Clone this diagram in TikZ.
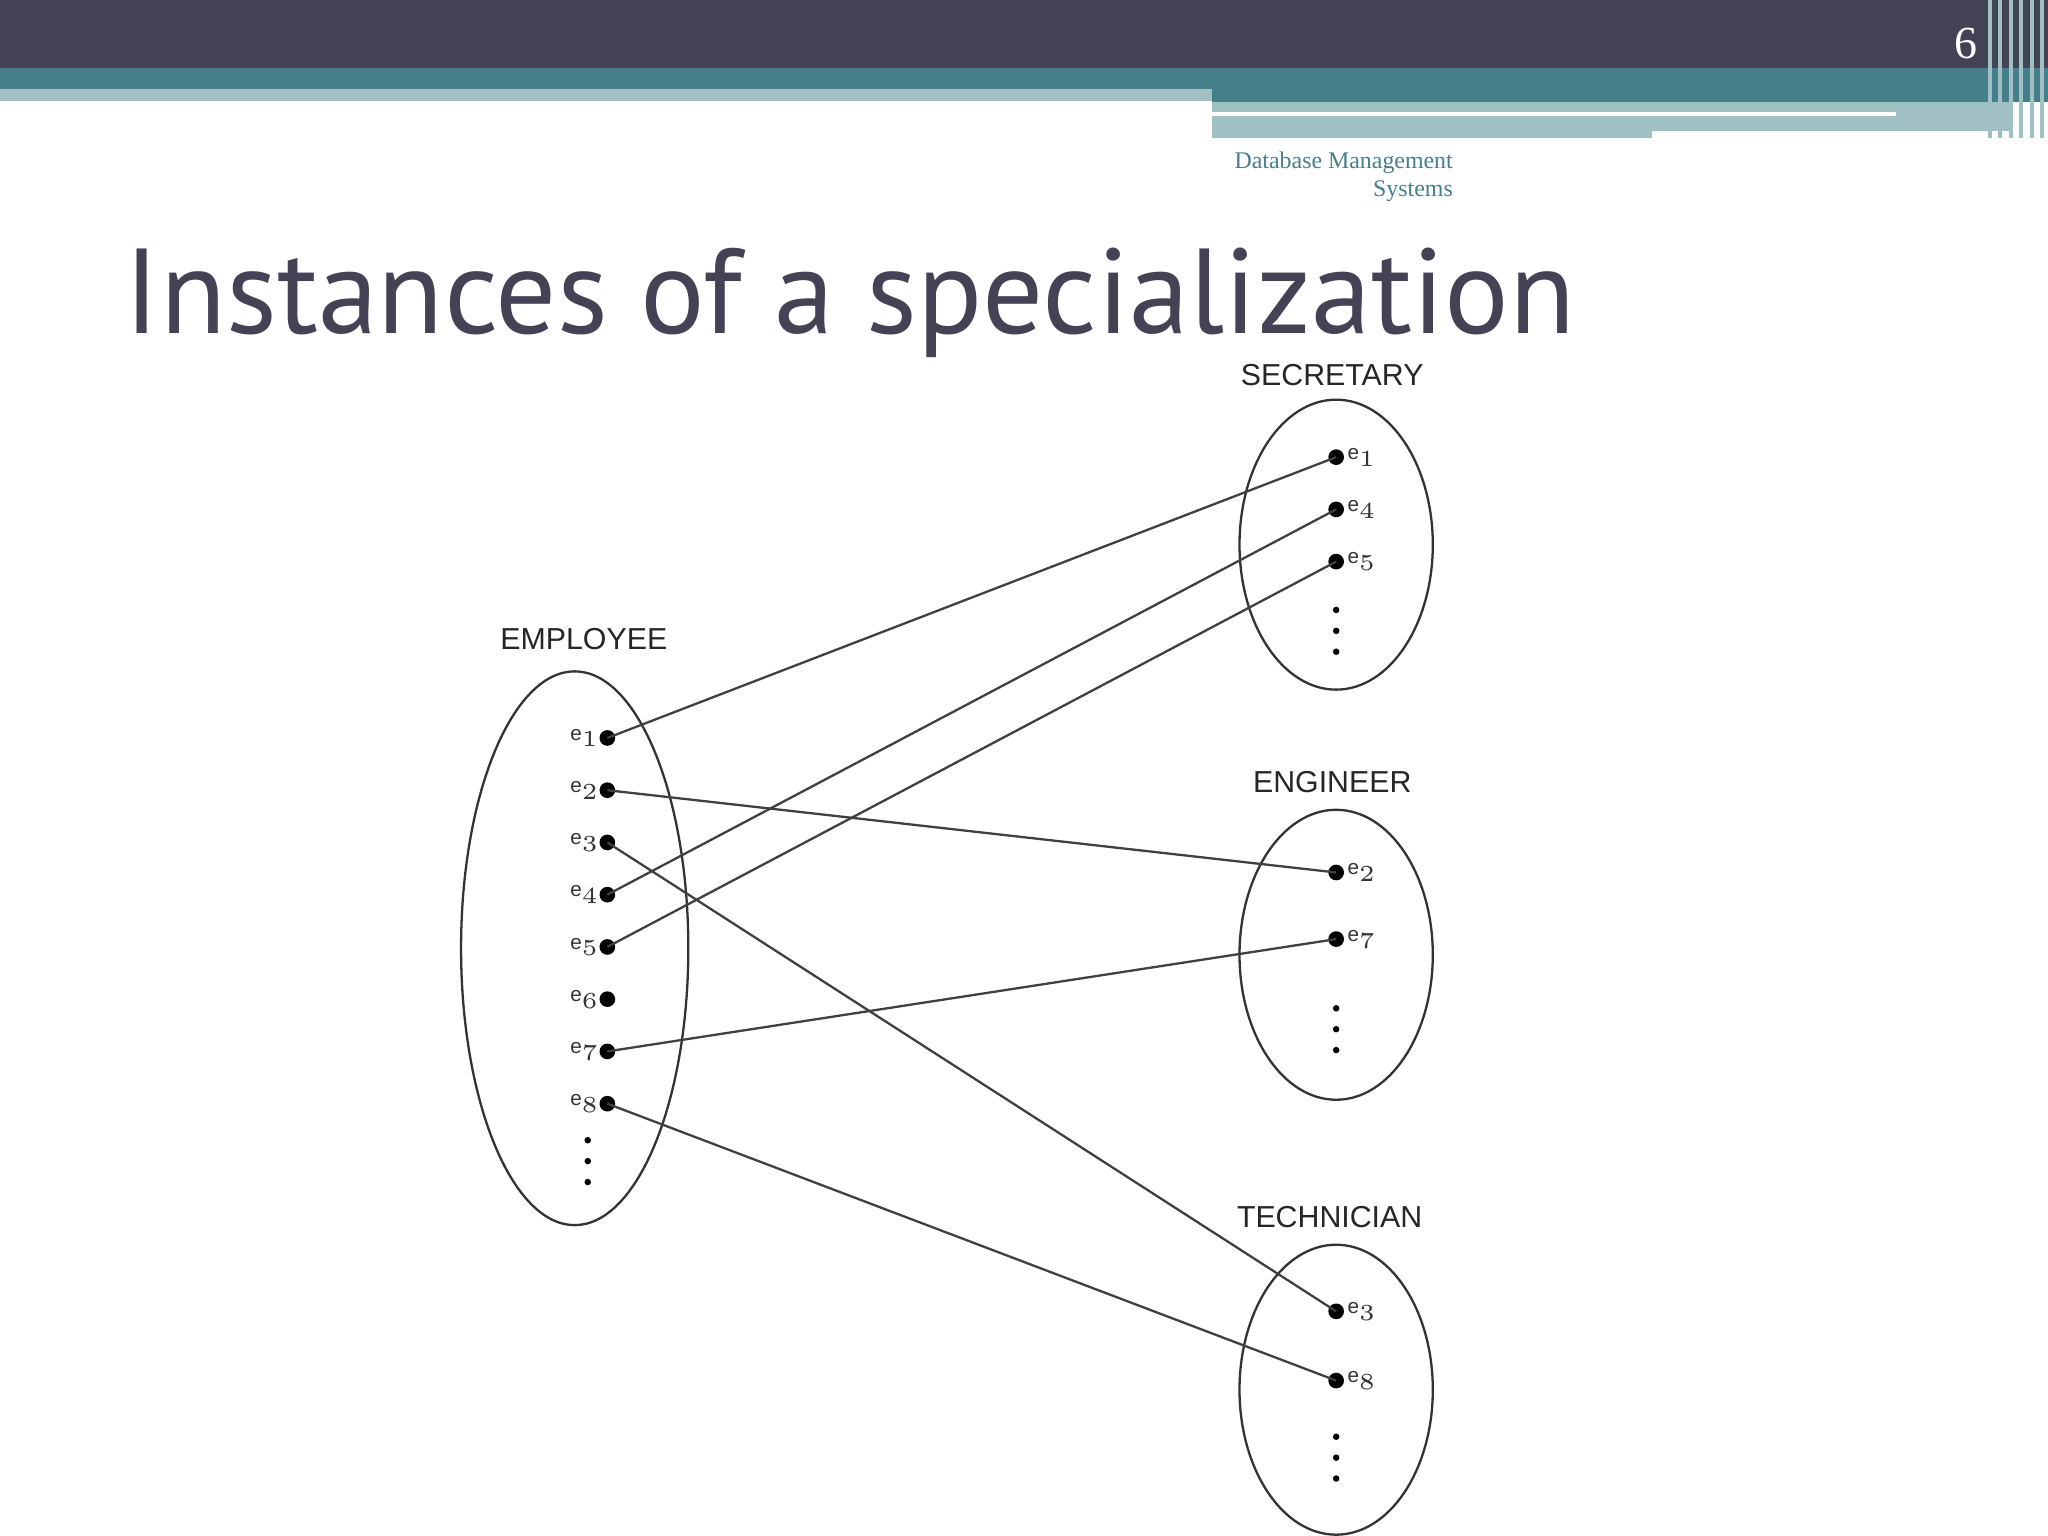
\documentclass[tikz,border=0pt]{standalone}
\usepackage{fontspec}
\setmainfont{Liberation Serif}
\newfontfamily\titlefont{PT Sans}
\newfontfamily\lab{Liberation Sans}
\begin{document}
\begin{tikzpicture}[x=0.01cm,y=-0.01cm,
  dot/.style={circle,fill=black,inner sep=0pt,minimum size=0.12cm},
  small/.style={circle,fill=black,inner sep=0pt,minimum size=0.05cm},
  set/.style={draw=black!80,line width=0.5pt},
  conn/.style={draw=black!75,line width=0.5pt},
  setlab/.style={font=\lab\fontsize{6.6}{8}\selectfont,text=black!85,inner sep=1pt},
  el/.style={font=\lab\fontsize{4.5}{5}\selectfont,text=black!80,inner sep=0pt}]
\definecolor{dark}{HTML}{434355}
\definecolor{teal1}{HTML}{45808A}
\definecolor{teal2}{HTML}{A0C0C4}
\useasboundingbox (0,0) rectangle (1568,1176);
\fill[white] (0,0) rectangle (1568,1176);
% header
\fill[dark] (0,0) rectangle (1568,52);
\fill[teal1] (0,52) rectangle (1568,68);
\fill[teal2] (0,68) rectangle (928,77);
\fill[teal1] (928,68) rectangle (1568,78);
\fill[teal2] (928,78) rectangle (1540,106);
\fill[white] (928,86) rectangle (1452,89);
\fill[white] (1265,100) rectangle (1540,106);
\foreach \x in {1522,1530,1538,1546,1554,1562} \fill[teal2] (\x,0) rectangle (\x+3,106);
\node[text=white,font=\fontsize{10}{12}\selectfont] (num) at (1505,33) {6};
\node[align=right,anchor=north east,text=teal1,font=\fontsize{5.2}{6}\selectfont,inner sep=0pt] (sub) at (1113,116) {Database Management\\Systems};
\node[anchor=base west,text=dark,font=\titlefont\fontsize{26.3}{30}\selectfont,inner sep=0pt] (title) at (95,255) {Instances of a specialization};
% sets
\draw[set] (440,726) ellipse [x radius=87,y radius=212];
\draw[set] (1023,417) ellipse [x radius=74,y radius=111];
\draw[set] (1023,731) ellipse [x radius=74,y radius=111];
\draw[set] (1023,1064) ellipse [x radius=74,y radius=111];
\node[setlab] (lemp) at (447,489) {EMPLOYEE};
\node[setlab] (lsec) at (1020,287) {SECRETARY};
\node[setlab] (leng) at (1020,599) {ENGINEER};
\node[setlab] (ltec) at (1018,932) {TECHNICIAN};
% employee
\foreach \i/\y in {1/565,2/605,3/645,4/685,5/725,6/765,7/805,8/845}{
  \node[dot] (E\i) at (465,\y) {};
  \node[el] (El\i) at (448,\y) {e$_{\scriptscriptstyle\i}$};
}
\foreach \y in {873,889,905} \node[small] at (450,\y) {};
% secretary
\foreach \i/\y in {1/350,4/390,5/430}{
  \node[dot] (S\i) at (1023,\y) {};
  \node[el] (Sl\i) at (1043,\y) {e$_{\scriptscriptstyle\i}$};
}
\foreach \y in {467,483,499} \node[small] at (1023,\y) {};
% engineer
\foreach \i/\y in {2/668,7/719}{
  \node[dot] (G\i) at (1023,\y) {};
  \node[el] (Gl\i) at (1043,\y) {e$_{\scriptscriptstyle\i}$};
}
\foreach \y in {772,788,804} \node[small] at (1023,\y) {};
% technician
\foreach \i/\y in {3/1004,8/1057}{
  \node[dot] (T\i) at (1023,\y) {};
  \node[el] (Tl\i) at (1043,\y) {e$_{\scriptscriptstyle\i}$};
}
\foreach \y in {1100,1116,1132} \node[small] at (1023,\y) {};
% connectors
\draw[conn] (E1.center) -- (S1.center);
\draw[conn] (E2.center) -- (G2.center);
\draw[conn] (E3.center) -- (T3.center);
\draw[conn] (E4.center) -- (S4.center);
\draw[conn] (E5.center) -- (S5.center);
\draw[conn] (E7.center) -- (G7.center);
\draw[conn] (E8.center) -- (T8.center);
\end{tikzpicture}
\end{document}
